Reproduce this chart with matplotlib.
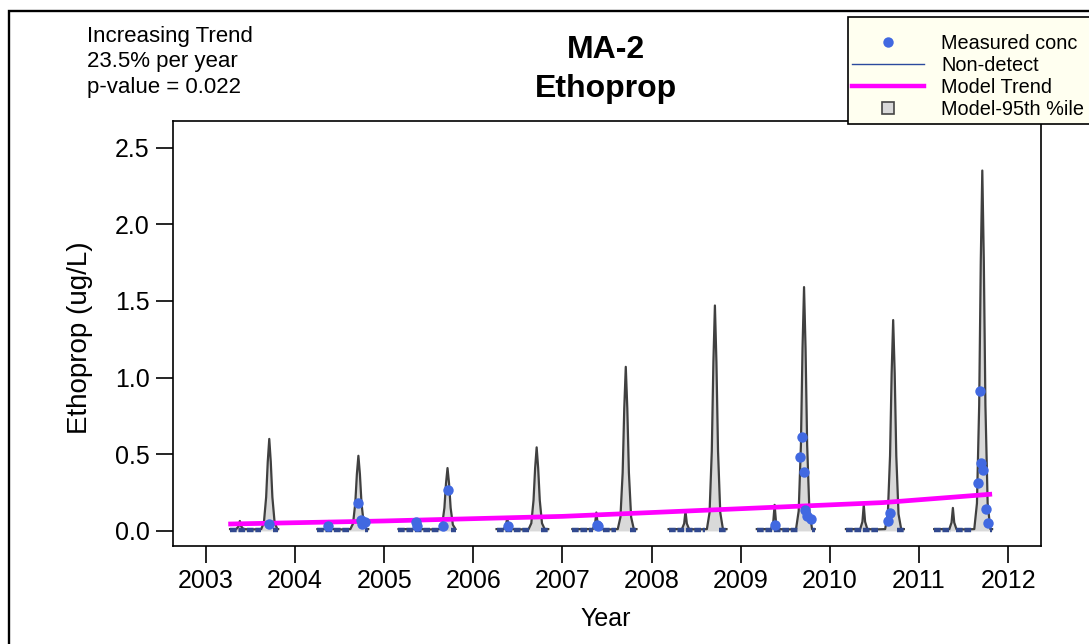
import matplotlib
matplotlib.use("Agg")
import matplotlib.pyplot as plt
from matplotlib.lines import Line2D
from matplotlib.patches import Rectangle

plt.rcParams['font.family'] = ['Liberation Sans', 'DejaVu Sans']

W, H = 1089, 644

# sampling seasons, one model segment per year
years = [2003, 2004, 2005, 2006, 2007, 2008, 2009, 2010, 2011]
seg_start = [0.27, 0.25, 0.16, 0.26, 0.11, 0.19, 0.18, 0.18, 0.17]
seg_end = [0.81, 0.82, 0.80, 0.84, 0.83, 0.84, 0.83, 0.83, 0.82]
# fraction of year for the inner points of each model curve
curve_offsets = [0.34, 0.365, 0.38, 0.395, 0.42, 0.52, 0.62, 0.65, 0.675,
                 0.693, 0.71, 0.727, 0.745, 0.77, 0.80]

# model 95th percentile (ug/L): start, inner points, end
p95 = [
    [0.012, 0.012, 0.030, 0.065, 0.030, 0.012, 0.010, 0.012, 0.055, 0.22, 0.45, 0.60, 0.45, 0.22, 0.055, 0.012, 0.012],
    [0.012, 0.012, 0.030, 0.065, 0.030, 0.012, 0.010, 0.012, 0.048, 0.18, 0.37, 0.49, 0.37, 0.18, 0.048, 0.012, 0.012],
    [0.012, 0.012, 0.028, 0.055, 0.028, 0.012, 0.010, 0.012, 0.040, 0.15, 0.31, 0.41, 0.31, 0.15, 0.040, 0.012, 0.012],
    [0.012, 0.012, 0.035, 0.085, 0.035, 0.012, 0.010, 0.012, 0.050, 0.20, 0.41, 0.545, 0.41, 0.20, 0.050, 0.012, 0.012],
    [0.012, 0.012, 0.045, 0.12, 0.045, 0.012, 0.010, 0.012, 0.090, 0.38, 0.80, 1.07, 0.80, 0.38, 0.090, 0.012, 0.012],
    [0.012, 0.012, 0.048, 0.13, 0.048, 0.012, 0.010, 0.012, 0.120, 0.52, 1.10, 1.47, 1.10, 0.52, 0.120, 0.012, 0.012],
    [0.012, 0.012, 0.060, 0.17, 0.060, 0.012, 0.010, 0.012, 0.130, 0.56, 1.19, 1.59, 1.19, 0.56, 0.130, 0.012, 0.012],
    [0.012, 0.012, 0.060, 0.17, 0.060, 0.012, 0.010, 0.012, 0.110, 0.49, 1.03, 1.375, 1.03, 0.49, 0.110, 0.012, 0.012],
    [0.012, 0.012, 0.055, 0.15, 0.055, 0.012, 0.010, 0.012, 0.180, 0.82, 1.76, 2.35, 1.76, 0.82, 0.180, 0.012, 0.012],
]

# non-detect runs (start, end) at the reporting level
nd_level = 0.006
nd_start = [2003.27, 2003.75, 2004.25, 2004.78, 2005.16, 2005.75, 2006.26, 2006.76,
            2007.11, 2007.45, 2007.76, 2008.19, 2008.76, 2009.18, 2009.80,
            2010.18, 2010.75, 2011.17, 2011.42, 2011.80]
nd_end = [2003.62, 2003.81, 2004.62, 2004.82, 2005.62, 2005.80, 2006.62, 2006.84,
          2007.34, 2007.60, 2007.83, 2008.60, 2008.84, 2009.64, 2009.83,
          2010.55, 2010.83, 2011.36, 2011.60, 2011.82]

# measured concentrations
meas_t = [2003.71, 2004.365, 2004.71, 2004.74, 2004.75, 2004.78,
          2005.36, 2005.37, 2005.66, 2005.72, 2006.39, 2007.39, 2007.40,
          2009.38, 2009.66, 2009.69, 2009.71, 2009.72, 2009.745, 2009.785,
          2010.65, 2010.67,
          2011.66, 2011.68, 2011.70, 2011.72, 2011.75, 2011.775]
meas_v = [0.045, 0.03, 0.185, 0.07, 0.045, 0.06,
          0.06, 0.03, 0.03, 0.27, 0.03, 0.04, 0.03,
          0.04, 0.485, 0.615, 0.385, 0.137, 0.098, 0.076,
          0.065, 0.115,
          0.315, 0.91, 0.44, 0.40, 0.145, 0.05]

# model trend
trend_t = [2003.25, 2005.0, 2007.0, 2009.0, 2010.6, 2011.82]
trend_v = [0.045, 0.065, 0.095, 0.145, 0.185, 0.24]

fig = plt.figure(figsize=(W / 100, H / 100), dpi=100)
ax = fig.add_axes([173 / W, 1 - 545.5 / H, (1040.5 - 173) / W, (545.5 - 121) / H])

for yr, s, e, vals in zip(years, seg_start, seg_end, p95):
    t = [yr + s] + [yr + o for o in curve_offsets] + [yr + e]
    ax.fill_between(t, 0, vals, color='#D9D9D9', lw=0, zorder=1)
    ax.plot(t, vals, color='#404040', lw=1.6, zorder=2)

ax.hlines([nd_level] * len(nd_start), nd_start, nd_end, color='#31498F',
          lw=3.2, linestyles=[(0, (1.5, 0.4))], zorder=3)
ax.plot(trend_t, trend_v, color='#FF00FF', lw=3.4, zorder=4, solid_capstyle='butt')
ax.plot(meas_t, meas_v, 'o', color='#4169E1', ms=7.5, mec='none', zorder=5)

ax.set_xlim(2002.63, 2012.363)
ax.set_ylim(-0.095, 2.673)
ax.set_xticks(range(2003, 2013))
ax.set_yticks([0.0, 0.5, 1.0, 1.5, 2.0, 2.5])
ax.set_yticklabels(['0.0', '0.5', '1.0', '1.5', '2.0', '2.5'])
ax.tick_params(direction='out', length=12, width=1.2, labelsize=18, pad=5, colors='black')
for sp in ax.spines.values():
    sp.set_linewidth(1.2)

# labels and titles
fig.text(606 / W, 1 - 626 / H, 'Year', ha='center', va='baseline', fontsize=18)
fig.text(80 / W, 1 - 338 / H, 'Ethoprop (ug/L)', ha='center', va='center',
         rotation=90, fontsize=20)
fig.text(606 / W, 1 - 58.5 / H, 'MA-2', ha='center', va='baseline', fontsize=23, fontweight='bold')
fig.text(606 / W, 1 - 97 / H, 'Ethoprop', ha='center', va='baseline', fontsize=23, fontweight='bold')

fig.text(87 / W, 1 - 41.7 / H, 'Increasing Trend', ha='left', va='baseline', fontsize=16)
fig.text(87 / W, 1 - 67.5 / H, '23.5% per year', ha='left', va='baseline', fontsize=16)
fig.text(87 / W, 1 - 93.3 / H, 'p-value = 0.022', ha='left', va='baseline', fontsize=16)

# outer frame
fig.patches.append(Rectangle((8.5 / W, -0.2), 1.5, 1.2 - 10.5 / H, transform=fig.transFigure,
                             fill=False, lw=1.7, ec='black'))

# legend box, drawn separately so its padding can match
fig.patches.append(Rectangle((847.7 / W, 1 - 124 / H), 0.5, (124 - 17.3) / H,
                             transform=fig.transFigure, fc='#FFFFF0', ec='black', lw=1.2, zorder=3))

handles = [
    Line2D([], [], marker='o', ls='none', color='#4169E1', ms=7.5, mec='none'),
    Line2D([], [], color='#2B4A9E', lw=1.0),
    Line2D([], [], color='#FF00FF', lw=3.2),
    Line2D([], [], marker='s', ls='none', mfc='#D9D9D9', mec='#454545', ms=8, mew=1.2),
]
labels = ['Measured conc', 'Non-detect', 'Model Trend', 'Model-95th %ile']
leg = fig.legend(handles, labels, loc='upper left', bbox_to_anchor=(852 / W, 1 - 34 / H),
                 borderaxespad=0, fontsize=14.3, frameon=False,
                 handlelength=3.65, handletextpad=0.85, labelspacing=0.15, borderpad=0)
leg.set_zorder(4)

fig.savefig('out.png', dpi=100)
